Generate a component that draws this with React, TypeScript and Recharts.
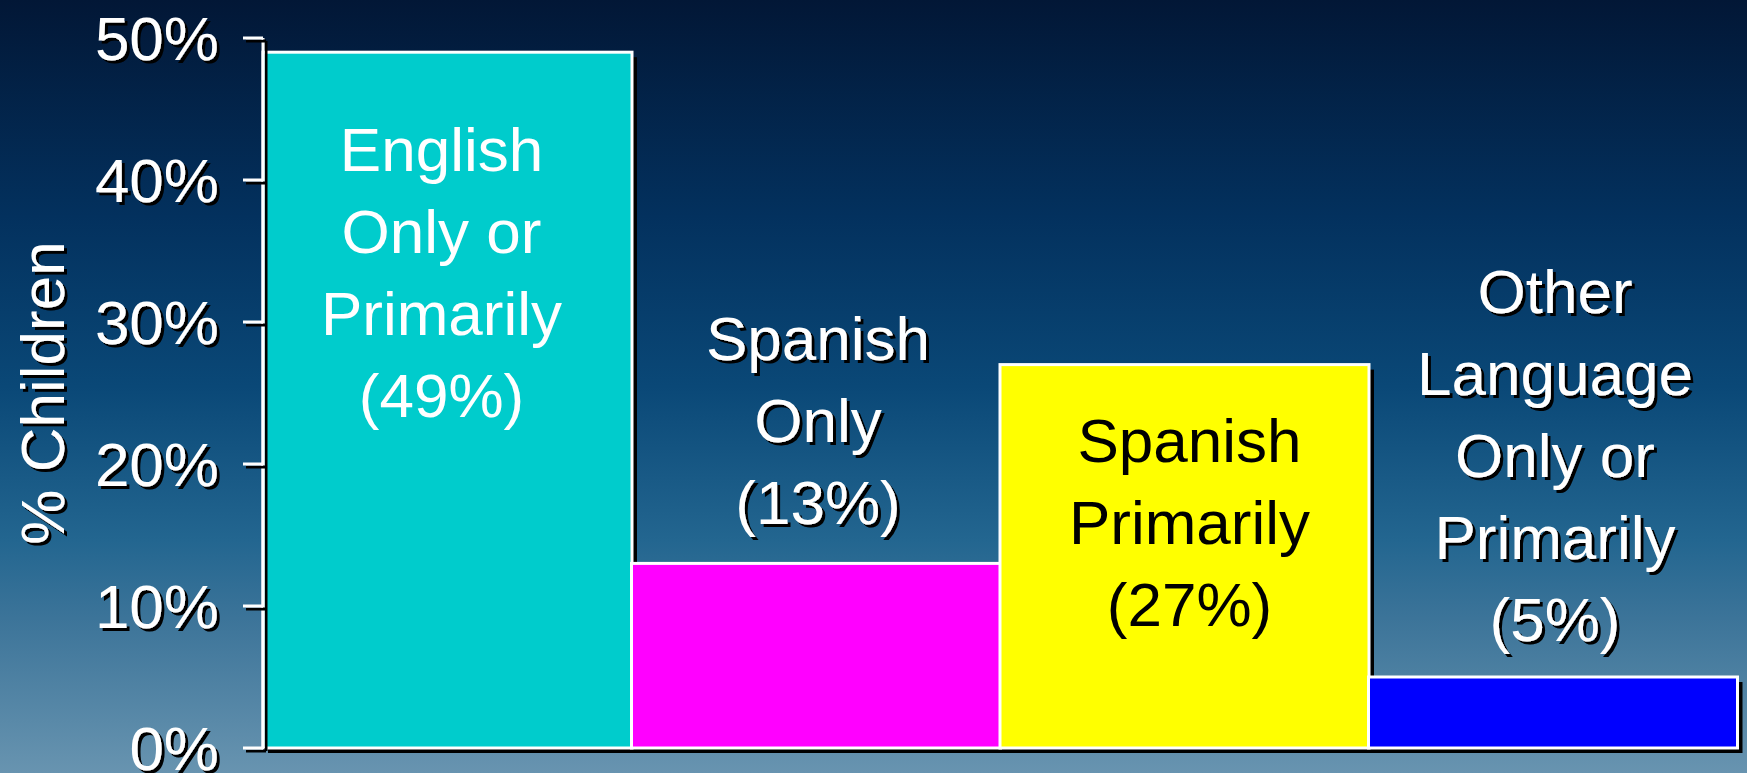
import { BarChart, Bar, XAxis, YAxis, LabelList, Cell } from "recharts";

const categories = [
  "English Only or Primarily",
  "Spanish Only",
  "Spanish Primarily",
  "Other Language Only or Primarily",
];
const shares = [49, 13, 27, 5];
const labelLines = [
  ["English", "Only or", "Primarily"],
  ["Spanish", "Only"],
  ["Spanish", "Primarily"],
  ["Other", "Language", "Only or", "Primarily"],
];
const barColors = ["#00CCCC", "#FF00FF", "#FFFF00", "#0000FF"];
const yTicks = [0, 10, 20, 30, 40, 50];

const data = categories.map((name, i) => ({ name, value: shares[i], lines: labelLines[i] }));

const FONT = "'Liberation Sans', Arial, sans-serif";
const LINE_H = 82;

// where each label sits relative to its bar top: inside (first line below top) or above (last line above top)
const labelPlace = [
  { inside: true, dy: 97, dx: -6, color: "#fff", shadow: false },
  { inside: false, dy: 61, dx: 2, color: "#fff", shadow: true },
  { inside: true, dy: 75, dx: 5, color: "#000", shadow: false },
  { inside: false, dy: 58, dx: 2, color: "#fff", shadow: true },
];

const BarShape = (props: any) => {
  const { x, y, width, height, fill } = props;
  return (
    <g>
      <rect x={x + 5} y={y + 5} width={width} height={height} fill="#000" />
      <rect x={x} y={y} width={width} height={height} fill={fill} stroke="#fff" strokeWidth={3} />
    </g>
  );
};

const BarLabel = (props: any) => {
  const { x, y, width, index, value } = props;
  const row = data[index];
  const lines = [...row.lines, `(${value}%)`];
  const place = labelPlace[index];
  const cx = x + width / 2 + place.dx;
  const firstY = place.inside ? y + place.dy : y - place.dy - (lines.length - 1) * LINE_H;
  return (
    <text
      x={cx}
      textAnchor="middle"
      fontFamily={FONT}
      fontSize={62}
      fill={place.color}
      filter={place.shadow ? "url(#drop)" : undefined}
    >
      {lines.map((l, i) => (
        <tspan key={i} x={cx} y={firstY + i * LINE_H} dy="0.355em">
          {l}
        </tspan>
      ))}
    </text>
  );
};

const YTick = (props: any) => {
  const { x, y, payload } = props;
  return (
    <text
      x={x}
      y={y}
      dy="0.355em"
      textAnchor="end"
      fontFamily={FONT}
      fontSize={62}
      fill="#fff"
      filter="url(#drop)"
    >
      {payload.value}%
    </text>
  );
};

const YLabel = (props: any) => {
  const vb = props.viewBox || { y: 38, height: 710 };
  const cy = vb.y + vb.height / 2;
  const cx = 42;
  return (
    <g filter="url(#drop)">
      <text
        x={cx}
        y={cy}
        dy="0.355em"
        textAnchor="middle"
        transform={`rotate(-90, ${cx}, ${cy})`}
        fontFamily={FONT}
        fontSize={62}
        fill="#fff"
      >
        % Children
      </text>
    </g>
  );
};

export default function App() {
  return (
    <div
      style={{
        width: 1747,
        height: 773,
        background:
          "linear-gradient(to bottom, #021736 0%, #03315e 28%, #0a4877 50%, #236690 70%, #3c7499 80%, #6894b0 100%)",
      }}
    >
      <style>{`body{margin:0} .recharts-cartesian-axis-line, .recharts-cartesian-axis-tick-line { filter: url(#drop); }`}</style>
      <svg width={0} height={0} style={{ position: "absolute" }}>
        <defs>
          <filter id="drop" filterUnits="userSpaceOnUse" x={-3000} y={-3000} width={8000} height={8000}>
            <feDropShadow dx={3} dy={3} stdDeviation={0} floodColor="#000" floodOpacity={1} />
          </filter>
        </defs>
      </svg>
      <BarChart
        width={1747}
        height={773}
        data={data}
        margin={{ top: 38, right: 10, bottom: 0, left: 83 }}
        barCategoryGap={0}
      >
        <XAxis dataKey="name" hide />
        <XAxis
          xAxisId="edge"
          type="number"
          domain={[0, 4]}
          ticks={[0, 4]}
          allowDataOverflow
          tick={false}
          tickSize={20}
          height={25}
          axisLine={{ stroke: "#fff", strokeWidth: 3 }}
          tickLine={{ stroke: "#fff", strokeWidth: 3 }}
        />
        <YAxis
          width={180}
          domain={[0, 50]}
          ticks={yTicks}
          tickSize={20}
          tickMargin={24}
          tick={<YTick />}
          axisLine={{ stroke: "#fff", strokeWidth: 3 }}
          tickLine={{ stroke: "#fff", strokeWidth: 3 }}
          label={<YLabel />}
        />
        <Bar dataKey="value" isAnimationActive={false} shape={<BarShape />}>
          {data.map((d, i) => (
            <Cell key={d.name} fill={barColors[i]} />
          ))}
          <LabelList dataKey="value" content={<BarLabel />} />
        </Bar>
      </BarChart>
    </div>
  );
}
